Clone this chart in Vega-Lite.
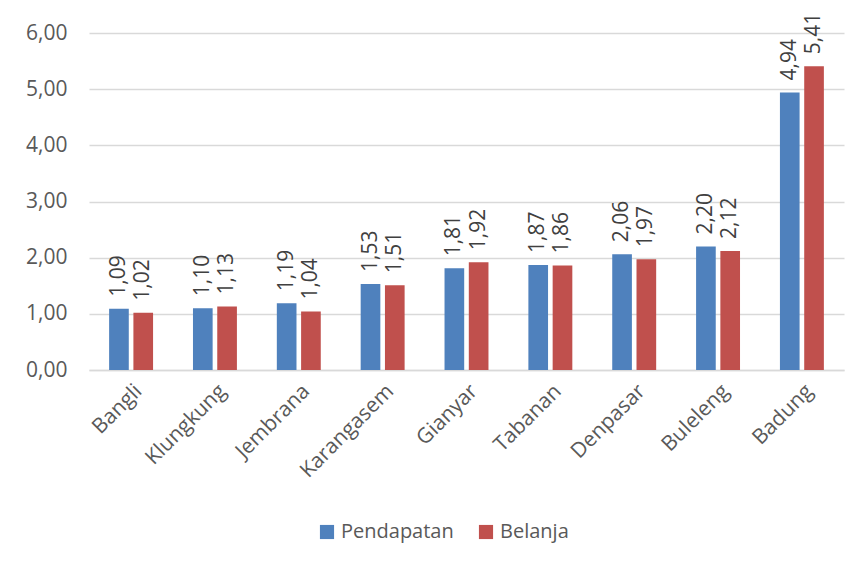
{
  "$schema": "https://vega.github.io/schema/vega-lite/v6.json",
  "width": 755,
  "height": 337,
  "autosize": {"type": "none"},
  "padding": {"left": 89, "top": 33, "right": 24, "bottom": 197},
  "background": "white",
  "config": {
    "font": "Open Sans",
    "view": {"stroke": null},
    "locale": {"number": {"decimal": ",", "thousands": ".", "grouping": [3], "currency": ["", ""]}}
  },
  "data": {
    "values": [
      {"wilayah": "Bangli", "jenis": "Pendapatan", "nilai": 1.09},
      {"wilayah": "Bangli", "jenis": "Belanja", "nilai": 1.02},
      {"wilayah": "Klungkung", "jenis": "Pendapatan", "nilai": 1.10},
      {"wilayah": "Klungkung", "jenis": "Belanja", "nilai": 1.13},
      {"wilayah": "Jembrana", "jenis": "Pendapatan", "nilai": 1.19},
      {"wilayah": "Jembrana", "jenis": "Belanja", "nilai": 1.04},
      {"wilayah": "Karangasem", "jenis": "Pendapatan", "nilai": 1.53},
      {"wilayah": "Karangasem", "jenis": "Belanja", "nilai": 1.51},
      {"wilayah": "Gianyar", "jenis": "Pendapatan", "nilai": 1.81},
      {"wilayah": "Gianyar", "jenis": "Belanja", "nilai": 1.92},
      {"wilayah": "Tabanan", "jenis": "Pendapatan", "nilai": 1.87},
      {"wilayah": "Tabanan", "jenis": "Belanja", "nilai": 1.86},
      {"wilayah": "Denpasar", "jenis": "Pendapatan", "nilai": 2.06},
      {"wilayah": "Denpasar", "jenis": "Belanja", "nilai": 1.97},
      {"wilayah": "Buleleng", "jenis": "Pendapatan", "nilai": 2.20},
      {"wilayah": "Buleleng", "jenis": "Belanja", "nilai": 2.12},
      {"wilayah": "Badung", "jenis": "Pendapatan", "nilai": 4.94},
      {"wilayah": "Badung", "jenis": "Belanja", "nilai": 5.41}
    ]
  },
  "encoding": {
    "x": {
      "field": "wilayah", "type": "nominal", "sort": null, "title": null,
      "scale": {"paddingInner": 0.476, "paddingOuter": 0.24},
      "axis": {"labelAngle": -45, "labelFontSize": 21, "labelColor": "#595959", "ticks": false, "labelPadding": 10, "domainColor": "#d9d9d9", "domainWidth": 1.5}
    },
    "xOffset": {"field": "jenis", "type": "nominal", "sort": ["Pendapatan", "Belanja"], "scale": {"paddingInner": 0.19}},
    "y": {
      "field": "nilai", "type": "quantitative", "title": null,
      "scale": {"domain": [0, 6], "nice": false},
      "axis": {"tickCount": 6, "format": ".2f", "labelFontSize": 21, "labelColor": "#595959", "ticks": false, "domain": false, "labelPadding": 22, "gridColor": "#d9d9d9", "gridWidth": 1.5}
    }
  },
  "layer": [
    {
      "mark": {"type": "bar"},
      "encoding": {
        "color": {
          "field": "jenis", "type": "nominal", "sort": ["Pendapatan", "Belanja"],
          "scale": {"domain": ["Pendapatan", "Belanja"], "range": ["#4F81BD", "#C0504D"]},
          "legend": {
            "title": null, "orient": "none", "direction": "horizontal", "legendX": 228, "legendY": 489,
            "symbolType": "square", "symbolSize": 200, "symbolStrokeWidth": 0, "labelFontSize": 20, "labelColor": "#595959", "columnPadding": 22, "labelOffset": 4
          }
        }
      }
    },
    {
      "mark": {"type": "text", "angle": 270, "align": "left", "baseline": "middle", "dx": 12, "fontSize": 21, "color": "#404040"},
      "encoding": {
        "text": {"field": "nilai", "type": "quantitative", "format": ".2f"}
      }
    }
  ]
}
